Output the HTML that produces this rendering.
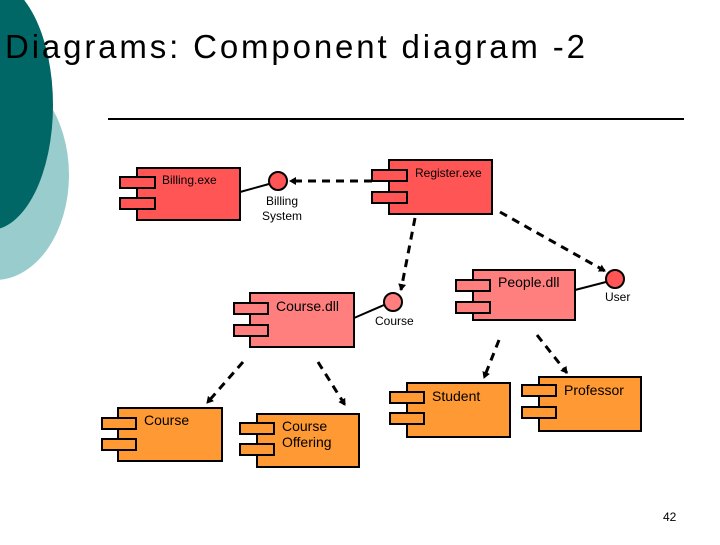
<!DOCTYPE html>
<html><head><meta charset="utf-8"><style>
body{margin:0;width:720px;height:540px;background:#fff;overflow:hidden;font-family:"Liberation Sans",sans-serif}
</style></head><body>
<svg width="720" height="540" xmlns="http://www.w3.org/2000/svg" font-family="Liberation Sans, sans-serif">
<defs><marker id="a" markerWidth="8" markerHeight="8" refX="6" refY="4" orient="auto" markerUnits="userSpaceOnUse"><path d="M0,0 L7,4 L0,8 z" fill="#000"/></marker></defs>
<ellipse cx="-5" cy="175" rx="74" ry="105" fill="#99cccc"/>
<ellipse cx="-10" cy="105" rx="63" ry="125" fill="#006666"/>
<text x="5" y="58" font-size="33" fill="#000" textLength="580" lengthAdjust="spacing">Diagrams: Component diagram -2</text>
<line x1="108" y1="119" x2="684" y2="119" stroke="#000" stroke-width="2"/>
<g stroke="#000" stroke-width="3" stroke-dasharray="8,6" fill="none">
<line x1="372" y1="181" x2="290" y2="181" marker-end="url(#a)"/>
<line x1="415" y1="218" x2="401" y2="290" marker-end="url(#a)"/>
<line x1="500" y1="212" x2="605" y2="271" marker-end="url(#a)"/>
<line x1="243" y1="362" x2="207" y2="403" marker-end="url(#a)"/>
<line x1="318" y1="362" x2="345" y2="405" marker-end="url(#a)"/>
<line x1="499" y1="340" x2="484" y2="378" marker-end="url(#a)"/>
<line x1="537" y1="335" x2="567" y2="373" marker-end="url(#a)"/>
</g>
<g stroke="#000" stroke-width="2">
<line x1="240" y1="192" x2="269" y2="184"/>
<line x1="575" y1="290" x2="606" y2="282"/>
<line x1="354" y1="318" x2="384" y2="305"/>
<circle cx="278" cy="181" r="9" fill="#f55"/>
<circle cx="615" cy="279" r="9" fill="#f55"/>
<circle cx="393" cy="302" r="9" fill="#ff7f7f"/>
<rect x="137" y="168" width="103" height="52" fill="#f55"/><rect x="120" y="177" width="35" height="11" fill="#f55"/><rect x="120" y="198" width="35" height="11" fill="#f55"/>
<rect x="389" y="160" width="103" height="54" fill="#f55"/><rect x="372" y="170" width="35" height="11" fill="#f55"/><rect x="372" y="192" width="35" height="11" fill="#f55"/>
<rect x="473" y="270" width="102" height="50" fill="#ff7f7f"/><rect x="456" y="280" width="34" height="11" fill="#ff7f7f"/><rect x="456" y="302" width="34" height="11" fill="#ff7f7f"/>
<rect x="250" y="293" width="104" height="54" fill="#ff7f7f"/><rect x="234" y="303" width="34" height="11" fill="#ff7f7f"/><rect x="234" y="325" width="34" height="11" fill="#ff7f7f"/>
<rect x="118" y="408" width="104" height="53" fill="#f93"/><rect x="102" y="418" width="34" height="11" fill="#f93"/><rect x="102" y="439" width="34" height="11" fill="#f93"/>
<rect x="257" y="414" width="102" height="53" fill="#f93"/><rect x="240" y="423" width="34" height="11" fill="#f93"/><rect x="240" y="444" width="34" height="11" fill="#f93"/>
<rect x="407" y="383" width="103" height="54" fill="#f93"/><rect x="390" y="392" width="34" height="11" fill="#f93"/><rect x="390" y="413" width="34" height="11" fill="#f93"/>
<rect x="539" y="377" width="102" height="54" fill="#f93"/><rect x="522" y="385" width="34" height="11" fill="#f93"/><rect x="522" y="407" width="34" height="11" fill="#f93"/>
</g>
<g font-size="12" fill="#000">
<text x="162" y="184">Billing.exe</text>
<text x="415" y="177">Register.exe</text>
<text x="282" y="205" text-anchor="middle">Billing</text>
<text x="282" y="220" text-anchor="middle">System</text>
<text x="605" y="301">User</text>
<text x="375" y="325">Course</text>
</g>
<g font-size="14" fill="#000">
<text x="498" y="287">People.dll</text>
<text x="276" y="311">Course.dll</text>
<text x="144" y="425">Course</text>
<text x="282" y="431">Course</text>
<text x="282" y="447">Offering</text>
<text x="432" y="401">Student</text>
<text x="564" y="395">Professor</text>
</g>
<text x="663" y="521" font-size="12">42</text>
</svg>
</body></html>
